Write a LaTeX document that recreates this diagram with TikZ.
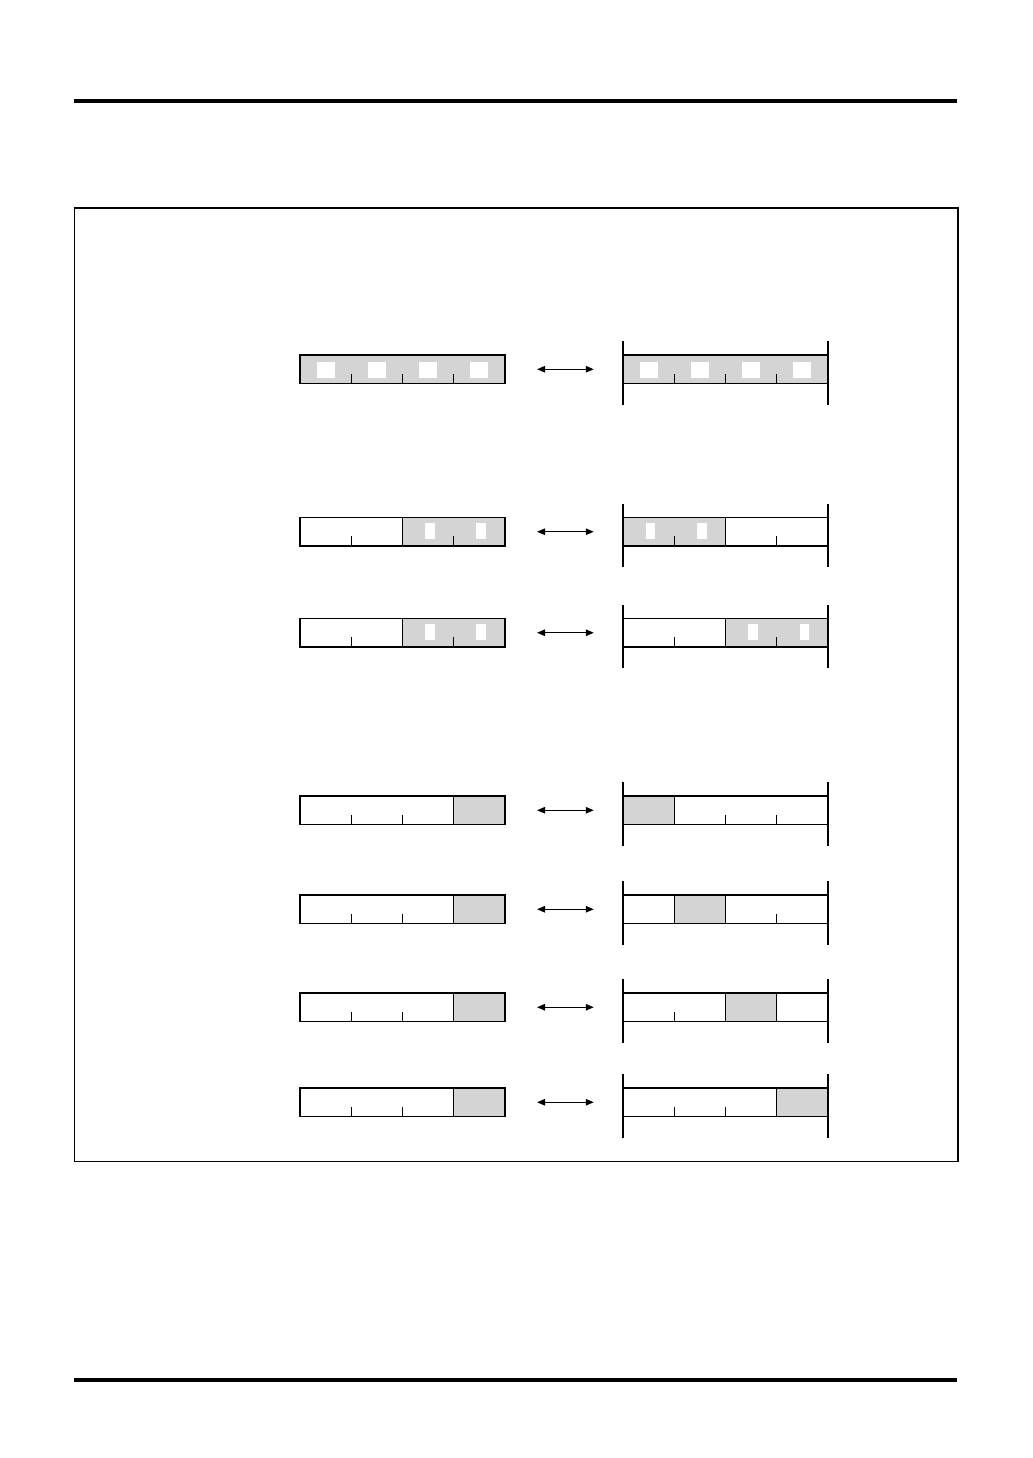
\documentclass[tikz,border=0pt]{standalone}
\usetikzlibrary{arrows.meta}

\definecolor{cellgray}{RGB}{212,212,212}

\tikzset{
  bar/.style={draw, line width=0.8pt, minimum width=118.9pt, minimum height=16.53pt,
    inner sep=0pt, outer sep=0pt},
  cell/.style={fill=cellgray},
  hole/.style={fill=white},
  tick/.style={line width=0.6pt},
  divider/.style={line width=0.8pt},
  rail/.style={line width=0.6pt},
  link/.style={{Triangle[length=4.6pt,width=3.8pt]}-{Triangle[length=4.6pt,width=3.8pt]},
    line width=0.6pt, shorten <=18.6pt, shorten >=17pt}
}

% square hole and narrow hole, given by their centre
\newcommand{\sqhole}[2]{\fill[hole] (#1-9,#2-8) rectangle (#1+9,#2+8);}
\newcommand{\slothole}[2]{\fill[hole] (#1-4.75,#2-8) rectangle (#1+4.75,#2+8);}

\begin{document}
\begin{tikzpicture}[x=0.58pt, y=-0.58pt]
      \useasboundingbox (0,0) rectangle (1032,1458);

      % page rules and frame
      \draw[line width=2.3pt] (74,101) -- (957,101);
      \draw[line width=2.3pt] (74,1380) -- (957,1380);
      \draw[line width=0.7pt] (74.3,208) rectangle (958,1161.3);

      % row 1
      \node[bar, fill=cellgray] (L1) at (402.5,369.25) {};
      \node[bar, fill=cellgray] (R1) at (725.5,369.25) {};
      \foreach \x in {325.6,376.9,428.1,479.4} {\sqhole{\x}{370}}
      \foreach \x in {648.6,699.9,751.1,802.4} {\sqhole{\x}{370}}
      \foreach \x in {351.25,402.5,453.75,674.25,725.5,776.75}
        \draw[tick] (\x,383.5) -- ++(0,-10);

      % row 2
      \fill[cell] (402.5,517.5) rectangle (505,546);
      \fill[cell] (623,517.5) rectangle (725.5,546);
      \node[bar] (L2) at (402.5,531.75) {};
      \node[bar] (R2) at (725.5,531.75) {};
      \foreach \x in {430,481} {\slothole{\x}{531}}
      \foreach \x in {650.5,702} {\slothole{\x}{531}}
      \foreach \x in {351.25,453.75,674.25,776.75}
        \draw[tick] (\x,546) -- ++(0,-10);
      \draw[divider] (402.5,517.5) -- (402.5,546);
      \draw[divider] (725.5,517.5) -- (725.5,546);

      % row 3
      \fill[cell] (402.5,618.5) rectangle (505,647);
      \fill[cell] (725.5,618.5) rectangle (828,647);
      \node[bar] (L3) at (402.5,632.75) {};
      \node[bar] (R3) at (725.5,632.75) {};
      \foreach \x in {430,481} {\slothole{\x}{632}}
      \foreach \x in {753,804.5} {\slothole{\x}{632}}
      \foreach \x in {351.25,453.75,674.25,776.75}
        \draw[tick] (\x,647) -- ++(0,-10);
      \draw[divider] (402.5,618.5) -- (402.5,647);
      \draw[divider] (725.5,618.5) -- (725.5,647);

      % row 4
      \fill[cell] (453.75,796) rectangle (505,824.5);
      \fill[cell] (623,796) rectangle (674.25,824.5);
      \node[bar] (L4) at (402.5,810.25) {};
      \node[bar] (R4) at (725.5,810.25) {};
      \foreach \x in {351.25,402.5,725.5,776.75}
        \draw[tick] (\x,824.5) -- ++(0,-10);
      \draw[divider] (453.75,796) -- (453.75,824.5);
      \draw[divider] (674.25,796) -- (674.25,824.5);

      % row 5
      \fill[cell] (453.75,895) rectangle (505,923.5);
      \fill[cell] (674.25,895) rectangle (725.5,923.5);
      \node[bar] (L5) at (402.5,909.25) {};
      \node[bar] (R5) at (725.5,909.25) {};
      \foreach \x in {351.25,402.5,776.75}
        \draw[tick] (\x,923.5) -- ++(0,-10);
      \draw[divider] (453.75,895) -- (453.75,923.5);
      \draw[divider] (674.25,895) -- (674.25,923.5);
      \draw[divider] (725.5,895) -- (725.5,923.5);

      % row 6
      \fill[cell] (453.75,993) rectangle (505,1021.5);
      \fill[cell] (725.5,993) rectangle (776.75,1021.5);
      \node[bar] (L6) at (402.5,1007.25) {};
      \node[bar] (R6) at (725.5,1007.25) {};
      \foreach \x in {351.25,402.5,674.25}
        \draw[tick] (\x,1021.5) -- ++(0,-10);
      \draw[divider] (453.75,993) -- (453.75,1021.5);
      \draw[divider] (725.5,993) -- (725.5,1021.5);
      \draw[divider] (776.75,993) -- (776.75,1021.5);

      % row 7
      \fill[cell] (453.75,1088) rectangle (505,1116.5);
      \fill[cell] (776.75,1088) rectangle (828,1116.5);
      \node[bar] (L7) at (402.5,1102.25) {};
      \node[bar] (R7) at (725.5,1102.25) {};
      \foreach \x in {351.25,402.5,674.25,725.5}
        \draw[tick] (\x,1116.5) -- ++(0,-10);
      \draw[divider] (453.75,1088) -- (453.75,1116.5);
      \draw[divider] (776.75,1088) -- (776.75,1116.5);

      % rails beside the right bars, and the links
      \foreach \r in {1,...,7} {
        \draw[rail] ([yshift=8.1pt]R\r.north west) -- ([yshift=-12.2pt]R\r.south west);
        \draw[rail] ([yshift=8.1pt]R\r.north east) -- ([yshift=-12.2pt]R\r.south east);
        \draw[link] (L\r) -- (R\r);
      }
    \end{tikzpicture}
\end{document}
